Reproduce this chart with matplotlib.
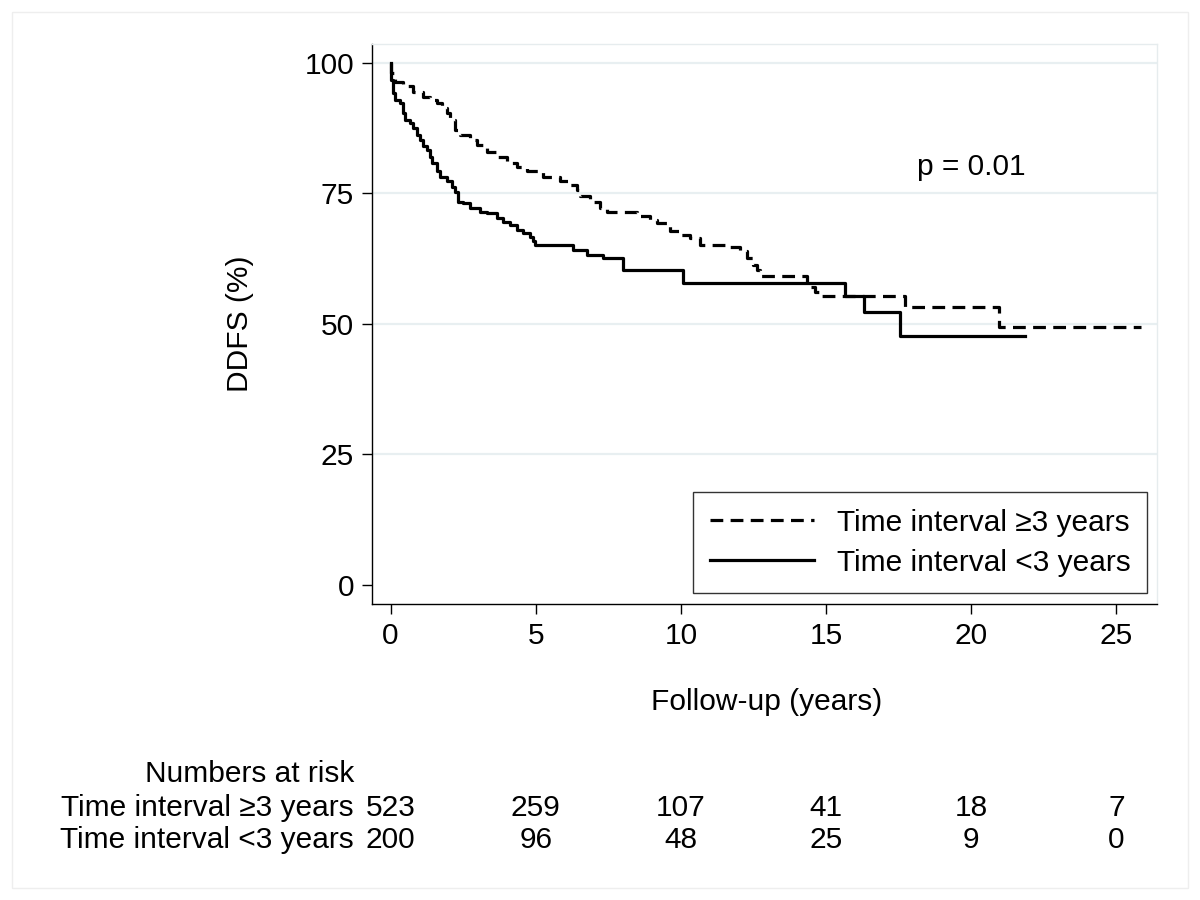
import numpy as np
import matplotlib.pyplot as plt
from matplotlib.patches import Rectangle
from matplotlib.transforms import blended_transform_factory

plt.rcParams['font.family'] = ['Liberation Sans', 'DejaVu Sans']

# =========================
# 数据
# =========================
# Time interval >=3 years (dashed)
t_ge3 = [0, 0.03, 0.15, 0.43, 0.78, 1.12, 1.36, 1.59, 1.76, 1.93, 2.04, 2.22,
         2.39, 2.73, 2.97, 3.31, 3.66, 4.0, 4.34, 4.69, 5.26, 5.84, 6.18, 6.41,
         6.53, 6.87, 7.22, 7.45, 8.48, 8.94, 9.17, 9.63, 9.98, 10.32, 10.67,
         11.58, 12.04, 12.28, 12.5, 12.62, 12.73, 14.34, 14.63, 14.8,
         17.73, 20.95, 25.84]
s_ge3 = [100, 98.0, 96.4, 95.5, 94.5, 93.5, 92.9, 92.3, 91.3, 90.4, 89.1, 87.2,
         86.2, 85.2, 84.3, 83.0, 82.0, 80.8, 80.1, 79.2, 78.2, 77.3, 76.6, 75.7,
         74.4, 73.4, 72.2, 71.5, 70.6, 69.9, 69.3, 67.7, 67.0, 66.4, 65.1,
         64.8, 63.9, 62.6, 61.3, 60.3, 59.1, 57.1, 56.2, 55.4,
         53.3, 49.5, 49.5]

# Time interval <3 years (solid)
t_lt3 = [0, 0.03, 0.09, 0.15, 0.32, 0.43, 0.49, 0.67, 0.78, 0.9, 1.01, 1.12,
         1.24, 1.36, 1.41, 1.59, 1.7, 1.93, 2.1, 2.22, 2.33, 2.5, 2.73, 3.08,
         3.31, 3.66, 3.88, 4.11, 4.34, 4.57, 4.8, 4.92, 4.98, 6.29, 6.76,
         7.33, 8.02, 10.08, 15.66, 16.3, 17.56, 21.87]
s_lt3 = [100, 96.7, 94.2, 92.9, 92.3, 90.4, 89.1, 88.4, 87.5, 86.2, 85.2, 84.0,
         83.3, 82.0, 80.8, 79.2, 78.2, 77.3, 76.3, 75.3, 73.4, 73.1, 72.2, 71.5,
         71.2, 70.2, 69.6, 69.0, 68.0, 67.5, 66.7, 65.8, 65.1, 64.2, 63.2,
         62.6, 60.3, 57.9, 55.4, 52.2, 47.6, 47.6]

risk_times = [0, 5, 10, 15, 20, 25]
risk_ge3 = [523, 259, 107, 41, 18, 7]
risk_lt3 = [200, 96, 48, 25, 9, 0]

label_ge3 = "Time interval \u22653 years"
label_lt3 = "Time interval <3 years"

# =========================
# 作图
# =========================
W, H = 1200, 900
FS = 21.5
fig = plt.figure(figsize=(12, 9), dpi=100)
fig.patches.append(Rectangle((12 / W, 12 / H), 1 - 24 / W, 1 - 24 / H,
                             transform=fig.transFigure, fill=False,
                             edgecolor='#eeeeee', lw=1))

ax = fig.add_axes([372 / W, 1 - 604 / H, (1157 - 372) / W, (604 - 44) / H])

grid_col = '#e8eff1'
for yv in [25, 50, 75, 100]:
    ax.axhline(yv, color=grid_col, lw=1.6, zorder=0)

ax.plot(t_ge3, s_ge3, drawstyle='steps-post', color='black', lw=2.3,
        dashes=(4.0, 2.3), label=label_ge3)
ax.plot(t_lt3, s_lt3, drawstyle='steps-post', color='black', lw=2.3,
        label=label_lt3)

ax.set_xlim(-0.64, 26.4)
ax.set_ylim(-3.64, 103.6)
ax.set_xticks([0, 5, 10, 15, 20, 25])
ax.set_yticks([0, 25, 50, 75, 100])
ax.tick_params(axis='both', labelsize=FS, length=7, width=1.0)
ax.tick_params(axis='y', pad=6)
ax.tick_params(axis='x', pad=6)

for side in ['left', 'bottom']:
    ax.spines[side].set_linewidth(1.0)
for side in ['top', 'right']:
    ax.spines[side].set_color('#e6ecee')
    ax.spines[side].set_linewidth(1.0)

ax.set_xlabel("Follow-up (years)", fontsize=FS)
ax.xaxis.set_label_coords(0.503, -0.15)
ax.set_ylabel("DDFS (%)", fontsize=FS)
ax.yaxis.set_label_coords(-0.15, 0.5)

ax.text(0.764, 0.78, "p = 0.01", transform=ax.transAxes,
        fontsize=FS, ha='center', va='center')

leg = ax.legend(loc='lower right', bbox_to_anchor=(0.987, 0.0196), fontsize=FS,
                frameon=True, fancybox=False, edgecolor='black',
                handlelength=3.5, borderpad=0.55, labelspacing=0.4,
                handletextpad=0.75, borderaxespad=0)
leg.get_frame().set_linewidth(1.0)

# =========================
# Numbers at risk
# =========================
tr = blended_transform_factory(ax.transData, fig.transFigure)
lab_x = 354 / W
fig.text(lab_x, 1 - 782 / H, "Numbers at risk", fontsize=FS, ha='right',
         va='baseline')
fig.text(lab_x, 1 - 816 / H, label_ge3, fontsize=FS, ha='right', va='baseline')
fig.text(lab_x, 1 - 848 / H, label_lt3, fontsize=FS, ha='right', va='baseline')
for t, n1, n2 in zip(risk_times, risk_ge3, risk_lt3):
    ax.text(t, 1 - 816 / H, str(n1), transform=tr, fontsize=FS, ha='center',
            va='baseline', clip_on=False)
    ax.text(t, 1 - 848 / H, str(n2), transform=tr, fontsize=FS, ha='center',
            va='baseline', clip_on=False)

plt.savefig("out.png", dpi=100)
